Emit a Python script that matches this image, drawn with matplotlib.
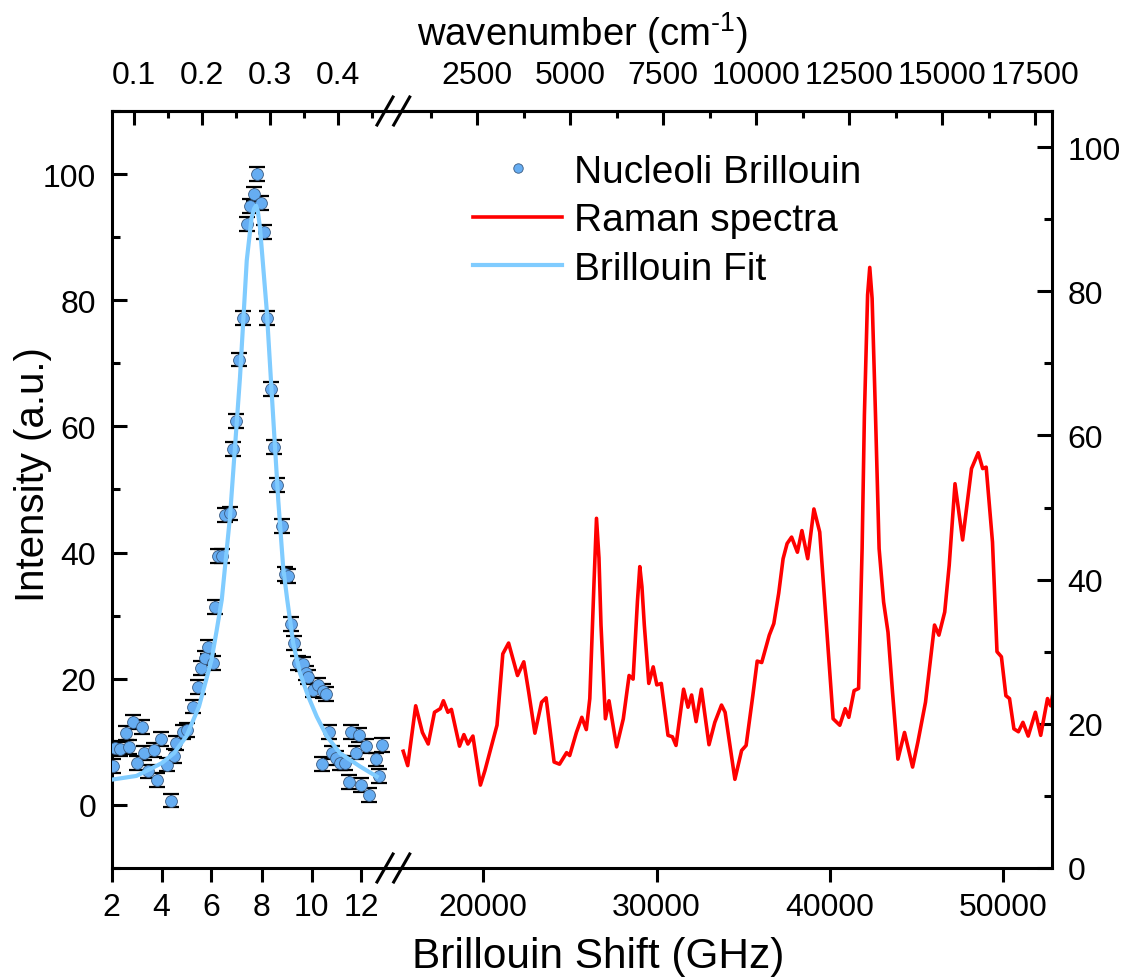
import numpy as np
import matplotlib
matplotlib.use("Agg")
import matplotlib.pyplot as plt
from matplotlib.lines import Line2D

plt.rcParams['font.family'] = ['Liberation Sans', 'DejaVu Sans']
plt.rcParams['mathtext.fontset'] = 'custom'
plt.rcParams['mathtext.rm'] = 'Liberation Sans'
plt.rcParams['mathtext.it'] = 'Liberation Sans'
plt.rcParams['mathtext.default'] = 'regular'

# Brillouin data (GHz, a.u.)
bri_x = [2.07, 2.14, 2.34, 2.58, 2.68, 2.85, 3.0, 3.2, 3.3, 3.47, 3.7, 3.8, 3.97,
         4.2, 4.37, 4.51, 4.6, 4.87, 5.0, 5.25, 5.47, 5.6, 5.74, 5.87, 6.07, 6.14,
         6.27, 6.4, 6.54, 6.74, 6.87, 7.0, 7.11, 7.27, 7.41, 7.54, 7.7, 7.81, 7.97,
         8.11, 8.23, 8.37, 8.5, 8.61, 8.81, 8.93, 9.07, 9.2, 9.3, 9.47, 9.65, 9.78,
         9.87, 10.07, 10.27, 10.43, 10.45, 10.6, 10.7, 10.8, 11.0, 11.14, 11.34,
         11.51, 11.6, 11.78, 11.91, 12.0, 12.2, 12.31, 12.58, 12.71, 12.81]
bri_y = [6.2, 9.0, 8.9, 11.4, 9.2, 13.1, 6.6, 12.3, 8.2, 5.3, 8.7, 4.0, 10.4,
         6.4, 0.7, 7.7, 9.8, 11.6, 11.9, 15.6, 18.7, 21.7, 23.3, 25.1, 22.5, 31.4,
         39.4, 39.4, 45.9, 46.2, 56.4, 60.8, 70.6, 77.2, 92.1, 95.0, 96.8, 100.0, 95.4,
         90.8, 77.2, 66.0, 56.7, 50.7, 44.2, 36.6, 36.3, 28.7, 25.7, 22.5, 22.3, 20.9,
         20.3, 18.2, 19.0, 6.5, 18.0, 17.6, 11.6, 8.3, 7.4, 6.6, 6.7,
         3.6, 11.5, 8.3, 11.1, 3.1, 9.3, 1.6, 7.2, 4.6, 9.5]
bri_err = 1.1

# Brillouin fit curve
fit_x = [2.0, 3.0, 4.0, 4.5, 5.0, 5.5, 6.0, 6.2, 6.41, 6.74, 7.14, 7.41, 7.6, 7.7,
         7.78, 7.85, 7.94, 8.21, 8.41, 8.67, 8.87, 9.03, 9.27, 9.54, 9.87, 10.21,
         10.61, 11.14, 11.94, 12.61]
fit_y = [4.0, 4.6, 6.6, 8.2, 10.9, 15.6, 23.0, 27.5, 32.5, 45.7, 67.8, 86.3, 93.0,
         94.5, 95.0, 94.2, 91.5, 78.4, 65.2, 48.3, 37.5, 32.5, 25.6, 20.9, 17.2, 14.0,
         10.9, 8.2, 6.1, 4.5]

# Raman spectrum (GHz, a.u.)
ram_x = [15384, 15644, 16105, 16492, 16827, 17190, 17525, 17704, 17963, 18165,
         18633, 18886, 19117, 19406, 19838, 20098, 20485, 20796, 21131, 21466,
         21979, 22342, 22625, 22983, 23370, 23629, 24091, 24403, 24812, 24991,
         25378, 25690, 25949, 26151, 26400, 26537, 26680, 26797, 27051, 27259, 27697, 28084,
         28419, 28649, 28900, 29036, 29160, 29296, 29555, 29809, 30017, 30276, 30663, 30917,
         31125, 31563, 31817, 32025, 32284, 32590, 33029, 33364, 33750, 33958,
         34523, 34910, 35170, 35556, 35810, 36070, 36508, 36768, 37050, 37304,
         37535, 37795, 38130, 38390, 38724, 39082, 39417, 39803, 40190, 40577,
         40888, 41096, 41401, 41661, 41863, 41995, 42180, 42304, 42440, 42636, 42844, 43103,
         43357, 43617, 43928, 44310, 44776, 45083, 45521, 46041, 46294, 46629,
         46889, 47223, 47662, 48175, 48562, 48820, 49022, 49386, 49646, 49900,
         50160, 50368, 50622, 50882, 51142, 51447, 51862, 52168, 52560, 52739, 52889]
ram_y = [16.2, 14.2, 22.5, 18.8, 17.2, 21.6, 22.1, 23.2, 21.6, 22.0,
         16.9, 18.5, 17.2, 18.3, 11.5, 13.5, 17.0, 19.8, 29.7, 31.2,
         26.7, 28.6, 24.4, 18.7, 23.0, 23.6, 14.7, 14.4, 16.0, 15.6,
         18.8, 20.9, 19.2, 23.5, 40.0, 48.5, 43.0, 33.7, 20.7, 23.2, 16.8, 20.7,
         26.7, 26.2, 37.0, 41.8, 39.0, 33.7, 25.6, 27.9, 25.4, 25.6, 18.4, 18.2,
         17.0, 24.8, 22.3, 24.0, 20.3, 24.8, 17.1, 20.2, 22.6, 21.6,
         12.3, 16.3, 17.0, 23.9, 28.7, 28.5, 32.3, 33.9, 38.1, 42.9,
         45.0, 45.9, 43.8, 46.8, 42.9, 49.8, 46.6, 33.7, 20.7, 19.8,
         22.1, 20.9, 24.6, 24.9, 44.3, 62.8, 79.5, 83.3, 79.0, 62.8, 44.3, 36.9,
         32.7, 24.4, 15.1, 18.8, 14.0, 17.5, 23.0, 33.7, 32.3, 35.5,
         42.0, 53.3, 45.5, 55.4, 57.6, 55.4, 55.6, 45.2, 30.0, 29.3,
         23.9, 23.5, 19.3, 18.9, 20.2, 18.3, 21.6, 18.4, 23.5, 22.5, 24.4]

left_ticks = [2, 4, 6, 8, 10, 12]
right_ticks = [20000, 30000, 40000, 50000]
top_left_ticks = [0.1, 0.2, 0.3, 0.4]
top_right_ticks = [2500, 5000, 7500, 10000, 12500, 15000, 17500]

W, H = 1130, 979
fig = plt.figure(figsize=(W / 100, H / 100), dpi=100)

x0, xj, x1 = 111.5, 393.0, 1052.3
yb, yt = 869.0, 112.0
axL = fig.add_axes([x0 / W, 1 - yb / H, (xj - x0) / W, (yb - yt) / H])
axR = fig.add_axes([xj / W, 1 - yb / H, (x1 - xj) / W, (yb - yt) / H])
for a in (axL, axR):
    a.patch.set_alpha(0)

lw = 2.2
fs = 23
# left panel: Brillouin
axL.errorbar(bri_x, bri_y, yerr=bri_err, fmt='none', ecolor='black', elinewidth=1.4,
             capsize=5.5, capthick=1.6, zorder=2)
pts, = axL.plot(bri_x, bri_y, 'o', ms=8.5, mfc='#66adf2', mec='#3a5a80', mew=0.6, zorder=3)
fit, = axL.plot(fit_x, fit_y, color='#80ccff', lw=3, zorder=4)
axL.set_xlim(2, 2 + (xj - x0) / 25.0)
axL.set_ylim(-10, 110)
axL.spines['right'].set_visible(False)
axL.set_xticks(left_ticks)
axL.set_yticks([0, 20, 40, 60, 80, 100])
axL.set_yticks([-10, 10, 30, 50, 70, 90, 110], minor=True)
axL.tick_params(axis='x', direction='out', length=10, width=lw, labelsize=fs, pad=7)
axL.tick_params(axis='y', which='major', direction='in', length=11, width=lw, labelsize=fs, pad=11)
axL.tick_params(axis='y', which='minor', direction='in', length=5.5, width=lw)

# right panel: Raman
red, = axR.plot(ram_x, ram_y, color='#ff0000', lw=2.6)
axR.set_xlim(20000 + (xj - 483.2) * 57.7, 20000 + (x1 - 483.2) * 57.7)
axR.set_ylim(0, 105)
axR.spines['left'].set_visible(False)
axR.set_xticks(right_ticks)
axR.yaxis.tick_right()
axR.set_yticks([0, 20, 40, 60, 80, 100])
axR.set_yticks([10, 30, 50, 70, 90], minor=True)
axR.tick_params(axis='x', direction='out', length=10, width=lw, labelsize=fs, pad=7)
axR.tick_params(axis='y', which='major', direction='in', length=11, width=lw, labelsize=fs, pad=11,
                left=False, right=True)
axR.tick_params(axis='y', which='minor', direction='in', length=5.5, width=lw, left=False, right=True)

for a in (axL, axR):
    for s in a.spines.values():
        s.set_linewidth(lw)

# top wavenumber axes
topL = axL.secondary_xaxis('top', functions=(lambda g: 0.1 + (g - 2.9) * 0.03672,
                                             lambda w: 2.9 + (w - 0.1) / 0.03672))
topL.set_xticks(top_left_ticks)
topL.set_xticks([0.05, 0.15, 0.25, 0.35, 0.45], minor=True)
topL.tick_params(which='major', direction='in', length=10, width=lw, labelsize=fs, pad=15)
topL.tick_params(which='minor', direction='in', length=5, width=lw)
topL.spines['top'].set_linewidth(lw)

topR = axR.secondary_xaxis('top', functions=(lambda g: 2500 + (g - 19660) * 0.46614,
                                             lambda w: 19660 + (w - 2500) / 0.46614))
topR.set_xticks(top_right_ticks)
topR.set_xticks([1250, 3750, 6250, 8750, 11250, 13750, 16250], minor=True)
topR.set_xticklabels([str(t) for t in top_right_ticks])
topR.tick_params(which='major', direction='in', length=10, width=lw, labelsize=fs, pad=15)
topR.tick_params(which='minor', direction='in', length=5, width=lw)
topR.spines['top'].set_linewidth(lw)

# break marks
for yy in (yb, yt):
    for xc in (385, 401.7):
        fig.add_artist(Line2D([(xc - 8) / W, (xc + 8) / W], [1 - (yy + 14) / H, 1 - (yy - 14) / H],
                              color='black', lw=2.2, transform=fig.transFigure))

# labels
fig.text(598 / W, 1 - 957 / H, 'Brillouin Shift (GHz)', ha='center', va='center', fontsize=30.5)
fig.text(33 / W, 1 - 475 / H, 'Intensity (a.u.)', ha='center', va='center', rotation=90, fontsize=29)
fig.text(582 / W, 1 - 33 / H, 'wavenumber (cm$^{\u2010 1}$)', ha='center', va='center', fontsize=27.5)

fig.legend([pts, red, fit], ['Nucleoli Brillouin', 'Raman spectra', 'Brillouin Fit'],
           loc='upper left', bbox_to_anchor=(473 / W, 1 - 155 / H), frameon=False,
           borderpad=0, borderaxespad=0, handlelength=2.3, handletextpad=0.3,
           labelspacing=0.32, fontsize=28, markerscale=0.8)

fig.savefig('out.png', dpi=100)
